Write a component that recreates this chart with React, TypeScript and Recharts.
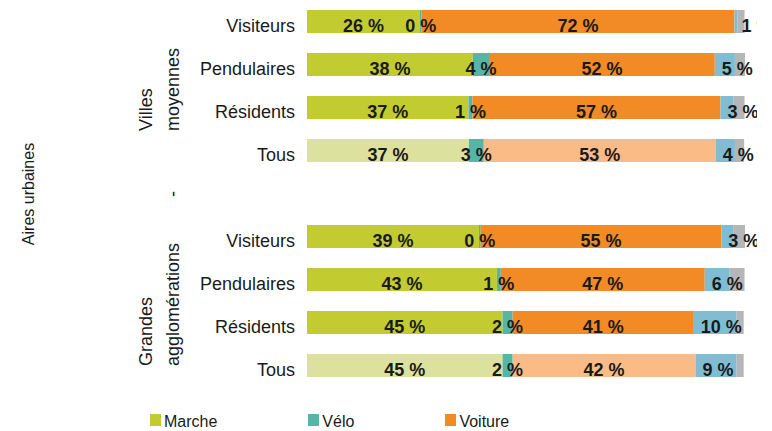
import React from "react";
import { BarChart, Bar, XAxis, YAxis, Legend, LabelList, Cell } from "recharts";

// rows, top to bottom (one empty separator row between the two groups)
const rowKeys = ["vm-vis", "vm-pen", "vm-res", "vm-tous", "sep", "ga-vis", "ga-pen", "ga-res", "ga-tous"];
const rowLabels = ["Visiteurs", "Pendulaires", "Résidents", "Tous", "", "Visiteurs", "Pendulaires", "Résidents", "Tous"];

// shares in %
const marche = [25.8, 37.9, 36.9, 37.0, null, 39.3, 43.4, 44.7, 44.7];
const velo = [0.4, 3.7, 0.9, 3.4, null, 0.4, 0.9, 2.3, 2.3];
const voiture = [71.5, 51.6, 56.7, 53.0, null, 55.0, 46.6, 41.4, 41.8];
const tc = [0.7, 4.6, 3.0, 4.4, null, 2.7, 5.7, 9.8, 9.4];
const autre = [1.6, 2.3, 2.5, 2.1, null, 2.7, 3.4, 1.6, 1.6];

const legendKeys = ["marche", "velo", "voiture"];

const data = rowKeys.map((key, i) => ({
  key,
  label: rowLabels[i],
  total: rowLabels[i] === "Tous",
  marche: marche[i],
  velo: velo[i],
  voiture: voiture[i],
  tc: tc[i],
  autre: autre[i],
}));

const FONT = "'Liberation Sans', Arial, sans-serif";
const INK = "#1a1a1a";

const colors = {
  marche: "#c2cc31",
  marcheLight: "#dde19e",
  velo: "#55b6a5",
  voiture: "#f28a25",
  voitureLight: "#fabb87",
  tc: "#80bdd3",
  autre: "#b4b6b8",
};

const labelFor = (key: string) => rowLabels[rowKeys.indexOf(key)] ?? "";

function CenterLabel(props: any) {
  const { x, y, width, height, value } = props;
  if (value == null) return null;
  return (
    <text x={x + width / 2} y={y + height - 1} textAnchor="middle" fill={INK} fontFamily={FONT} fontSize={18} fontWeight={700}>
      {`${Math.round(value)} %`}
    </text>
  );
}

function StartLabel(props: any) {
  const { x, y, height, value } = props;
  if (value == null) return null;
  return (
    <text x={x + 7} y={y + height - 1} textAnchor="start" fill={INK} fontFamily={FONT} fontSize={18} fontWeight={700}>
      {`${Math.round(value)} %`}
    </text>
  );
}

function CategoryTick(props: any) {
  const { x, y, payload } = props;
  return (
    <text x={x} y={y} dy={10} textAnchor="end" fill={INK} fontFamily={FONT} fontSize={18}>
      {labelFor(payload.value)}
    </text>
  );
}

function LegendContent(props: any) {
  const items = legendKeys
    .map((k) => (props.payload || []).find((p: any) => p.dataKey === k))
    .filter(Boolean);
  return (
    <div style={{ display: "flex", alignItems: "flex-end", paddingLeft: 150, fontFamily: FONT, fontSize: 16, color: INK, height: 22 }}>
      {items.map((p: any) => (
        <div key={p.dataKey} style={{ display: "flex", alignItems: "flex-end", marginRight: 91 }}>
          <span style={{ width: 11, height: 12, background: p.color, marginRight: 3, marginBottom: 7 }} />
          <span style={{ lineHeight: "22px" }}>{p.value}</span>
        </div>
      ))}
    </div>
  );
}

function rotated(x: number, y: number, text: string, size: number, anchor: "start" | "middle") {
  return (
    <text x={x} y={y} transform={`rotate(-90 ${x} ${y})`} textAnchor={anchor} fill={INK} fontFamily={FONT} fontSize={size}>
      {text}
    </text>
  );
}

export default function App() {
  return (
    <div style={{ margin: "-8px -8px 0 -8px", width: 757, height: 431, overflow: "hidden" }}>
      <BarChart
        width={757}
        height={431}
        data={data}
        layout="vertical"
        margin={{ top: 0, right: 12, bottom: 22, left: 0 }}
        barSize={23}
      >
        <XAxis type="number" domain={[0, 100]} hide />
        <YAxis
          type="category"
          dataKey="key"
          width={307}
          tickLine={false}
          axisLine={false}
          tickSize={0}
          tickMargin={12}
          interval={0}
          tick={<CategoryTick />}
        />
        <Legend verticalAlign="bottom" height={22} content={<LegendContent />} wrapperStyle={{ top: 411, left: 0, bottom: "auto" }} />
        <Bar dataKey="marche" name="Marche" stackId="s" fill={colors.marche} isAnimationActive={false}>
          {data.map((d) => (
            <Cell key={d.key} fill={d.total ? colors.marcheLight : colors.marche} />
          ))}
          <LabelList dataKey="marche" content={<CenterLabel />} />
        </Bar>
        <Bar dataKey="velo" name="Vélo" stackId="s" fill={colors.velo} isAnimationActive={false}>
          <LabelList dataKey="velo" content={<CenterLabel />} />
        </Bar>
        <Bar dataKey="voiture" name="Voiture" stackId="s" fill={colors.voiture} isAnimationActive={false}>
          {data.map((d) => (
            <Cell key={d.key} fill={d.total ? colors.voitureLight : colors.voiture} />
          ))}
          <LabelList dataKey="voiture" content={<CenterLabel />} />
        </Bar>
        <Bar dataKey="tc" name="Transports en commun" stackId="s" fill={colors.tc} isAnimationActive={false}>
          <LabelList dataKey="tc" content={<StartLabel />} />
        </Bar>
        <Bar dataKey="autre" name="Autre" stackId="s" fill={colors.autre} isAnimationActive={false} />
        <g>
          {rotated(33.5, 194, "Aires urbaines", 16, "middle")}
          {rotated(152, 131, "Villes", 18, "start")}
          {rotated(179, 131, "moyennes", 18, "start")}
          {rotated(179, 194, "-", 18, "middle")}
          {rotated(152, 366, "Grandes", 18, "start")}
          {rotated(179, 366, "agglomérations", 18, "start")}
        </g>
      </BarChart>
    </div>
  );
}
